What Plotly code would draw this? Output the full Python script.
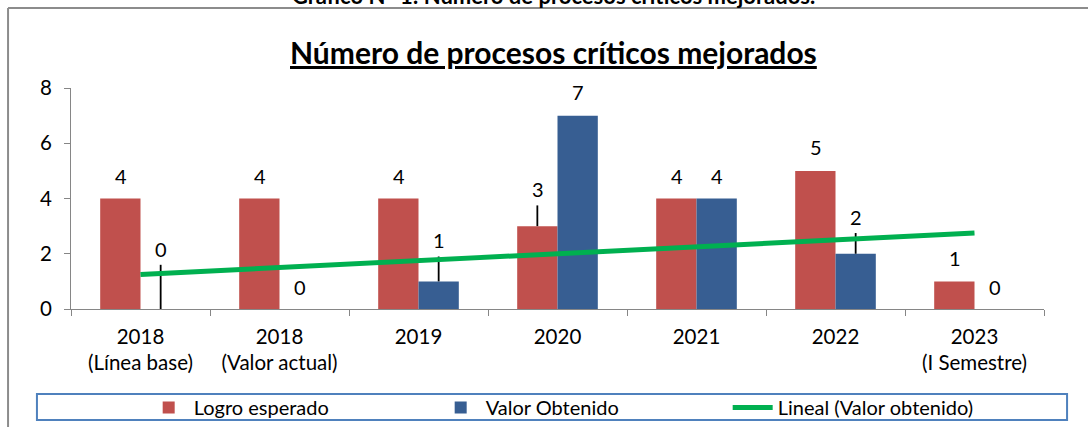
import plotly.graph_objects as go

# ---- data ----
categories = ["2018<br>(Línea base)", "2018<br>(Valor actual)", "2019", "2020", "2021", "2022", "2023<br>(I Semestre)"]
logro_esperado = [4, 4, 4, 3, 4, 5, 1]
valor_obtenido = [0, 0, 1, 7, 4, 2, 0]
tendencia = [1.25, 1.5, 1.75, 2.0, 2.25, 2.5, 2.75]
# leader lines (data-label connectors) above moved labels
leader_red = [0, 0, 0, 0.75, 0, 0, 0]
leader_blue = [1.6, 0, 0.9, 0, 0, 0.75, 0]

# ---- style ----
FONT = "Lato, sans-serif"
RED = "#C0504D"
BLUE = "#375E92"
GREEN = "#00B050"
AXIS = "#868686"
label_lift_red = [23, 23, 23, 37, 23, 24, 23]
label_lift_blue = [60, 22, 41, 24, 23, 37, 22]

fig = go.Figure()
fig.add_trace(go.Bar(
    x=categories, y=logro_esperado, name="Logro esperado",
    marker=dict(color=RED, line=dict(width=0)),
    error_y=dict(type="data", symmetric=False, array=leader_red,
                 arrayminus=[0] * len(leader_red), width=0, thickness=1.8, color="black"),
))
fig.add_trace(go.Bar(
    x=categories, y=valor_obtenido, name="Valor Obtenido",
    marker=dict(color=BLUE, line=dict(width=0)),
    error_y=dict(type="data", symmetric=False, array=leader_blue,
                 arrayminus=[0] * len(leader_blue), width=0, thickness=1.8, color="black"),
))
fig.add_trace(go.Scatter(
    x=categories, y=tendencia, name="Lineal (Valor obtenido)", mode="lines",
    line=dict(color=GREEN, width=5),
))

annotations = []
for i, (v, lift) in enumerate(zip(logro_esperado, label_lift_red)):
    annotations.append(dict(x=i, y=v, xref="x", yref="y", text=str(v), showarrow=False,
                            xshift=-20, yshift=lift, yanchor="middle",
                            font=dict(family=FONT, size=20, color="black")))
for i, (v, lift) in enumerate(zip(valor_obtenido, label_lift_blue)):
    annotations.append(dict(x=i, y=v, xref="x", yref="y", text=str(v), showarrow=False,
                            xshift=20, yshift=lift, yanchor="middle",
                            font=dict(family=FONT, size=20, color="black")))
# chart title
annotations.append(dict(x=0.5, y=1, xref="paper", yref="paper", xshift=-4, yshift=16,
                        yanchor="bottom", showarrow=False,
                        text="<b><u>Número de procesos críticos mejorados</u></b>",
                        font=dict(family=FONT, size=30, color="black")))
# cropped document caption at the very top
annotations.append(dict(x=0.5, y=1, xref="paper", yref="paper", xshift=-4, yshift=77,
                        yanchor="bottom", showarrow=False,
                        text="<b>Gráfico N° 1: Número de procesos críticos mejorados.</b>",
                        font=dict(family=FONT, size=22, color="black")))

shapes = [
    # outer frame (left and top edges)
    dict(type="line", xref="paper", yref="paper", x0=-0.0647, x1=-0.0647, y0=1.362, y1=-0.6,
         line=dict(color="#8C8C8C", width=2)),
    dict(type="line", xref="paper", yref="paper", x0=-0.0647, x1=1.1, y0=1.362, y1=1.362,
         line=dict(color="#8C8C8C", width=2)),
    # legend box
    dict(type="rect", xref="paper", yref="paper", x0=-0.035, x1=1.0237, y0=-0.502, y1=-0.385,
         line=dict(color="#4F81BD", width=2), fillcolor="rgba(0,0,0,0)"),
]

fig.update_layout(
    width=1088, height=427,
    margin=dict(l=71, r=44, t=88, b=118, autoexpand=False),
    paper_bgcolor="white", plot_bgcolor="white",
    barmode="group", bargap=0.42, bargroupgap=0,
    font=dict(family=FONT, size=20, color="black"),
    showlegend=True,
    legend=dict(orientation="h", x=0.0747, xanchor="left", y=-0.358, yanchor="top",
                entrywidth=237, entrywidthmode="pixels",
                font=dict(family=FONT, size=20, color="black"),
                bgcolor="rgba(0,0,0,0)", borderwidth=0, itemwidth=40),
    annotations=annotations,
    shapes=shapes,
    xaxis=dict(type="category", range=[-0.5, 6.5], showline=True, linecolor=AXIS, linewidth=1,
               ticks="outside", tickson="boundaries", ticklen=6, tickcolor=AXIS,
               showgrid=False, zeroline=False, tickfont=dict(family=FONT, size=20.5),
               ticklabelstandoff=9, fixedrange=True),
    yaxis=dict(range=[0, 8], dtick=2, showline=True, linecolor=AXIS, linewidth=1,
               ticks="outside", ticklen=6, tickcolor=AXIS, showgrid=False, zeroline=False,
               tickfont=dict(family=FONT, size=20.5), ticklabelstandoff=8, fixedrange=True),
)

fig.write_html("out.html", config={"displayModeBar": False},
               post_script="document.body.style.margin='0';document.body.style.overflow='hidden';")
